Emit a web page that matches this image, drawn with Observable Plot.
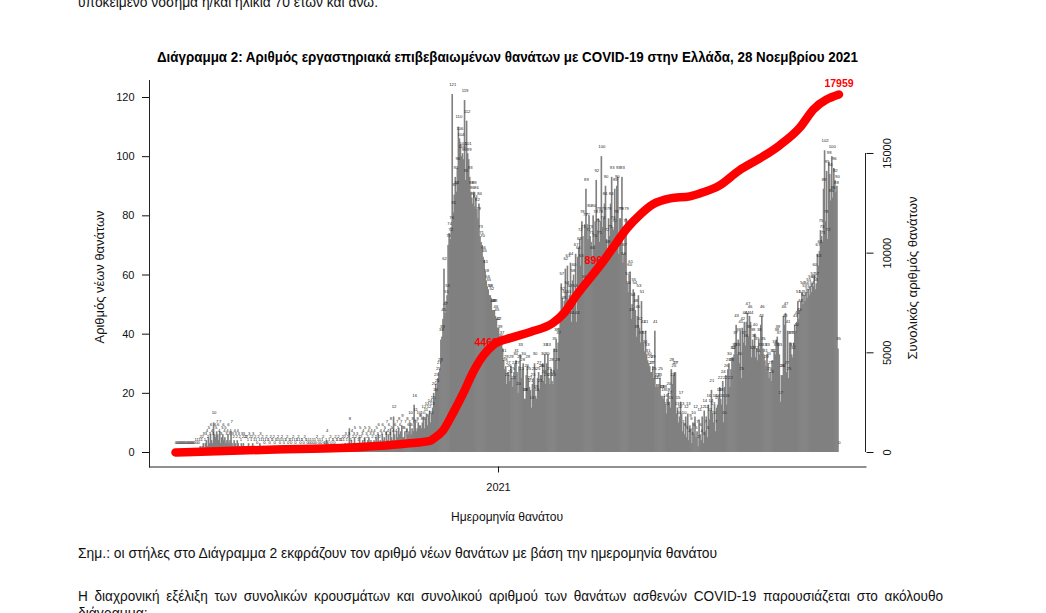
<!DOCTYPE html>
<html><head><meta charset="utf-8">
<script src="https://cdn.jsdelivr.net/npm/d3@7"></script>
<script src="https://cdn.jsdelivr.net/npm/@observablehq/plot@0.6"></script>
<style>
html,body{margin:0;padding:0;background:#fff;width:1046px;height:613px;overflow:hidden;position:relative;font-family:"Liberation Sans",Arial,sans-serif;color:#111;}
.t{position:absolute;white-space:nowrap;line-height:16px;transform-origin:0 0;}
.r{position:absolute;white-space:nowrap;line-height:14px;}
#chart{position:absolute;left:0;top:0;}
</style></head><body>
<div class="t" id="top" data-w="300" style="left:78px;top:-6px;font-size:14px;">υποκείμενο νόσημα ή/και ηλικία 70 ετών και άνω.</div>
<div class="t" id="title" data-w="701" style="left:157px;top:49px;font-size:14px;font-weight:bold;color:#000;">Διάγραμμα 2: Αριθμός εργαστηριακά επιβεβαιωμένων θανάτων με COVID-19 στην Ελλάδα, 28 Νοεμβρίου 2021</div>
<div id="chart"></div>
<div class="r" id="ylab" data-w="133" data-cx="100" data-cy="277" style="font-size:12px;">Αριθμός νέων θανάτων</div>
<div class="r" id="ylab2" data-w="163" data-cx="913" data-cy="278" style="font-size:12px;">Συνολικός αριθμός θανάτων</div>
<div class="t" id="xlab" data-w="112" style="left:451px;top:509px;font-size:12px;">Ημερομηνία θανάτου</div>
<div class="t" id="note" data-w="639" style="left:78px;top:545px;font-size:14px;">Σημ.: οι στήλες στο Διάγραμμα 2 εκφράζουν τον αριθμό νέων θανάτων με βάση την ημερομηνία θανάτου</div>
<div class="t" id="para" data-w="865" style="left:78px;top:588px;font-size:14px;word-spacing:3px;">Η διαχρονική εξέλιξη των συνολικών κρουσμάτων και συνολικού αριθμού των θανάτων ασθενών COVID-19 παρουσιάζεται στο ακόλουθο</div>
<div class="t" id="para2" style="left:78px;top:605px;font-size:14px;">διάγραμμα:</div>
<script>
// ---- data ----
const startDate = "2020-02-22";
const endDate = "2021-11-28";
const deaths = [
0,0,0,0,0,0,0,0,0,0,0,0,0,0,0,0,0,0,
0,1,0,1,0,1,2,1,2,3,1,3,4,2,5,3,6,4,3,10,6,
5,7,6,4,7,3,5,6,4,5,3,4,6,3,4,7,3,2,4,3,2,4,3,2,1,3,2,3,2,2,
2,1,3,2,1,2,3,1,2,1,0,2,1,3,1,2,1,0,1,2,1,1,0,2,1,1,2,0,1,1,2,
1,0,1,2,1,0,1,1,2,0,1,1,0,1,2,1,0,1,1,2,1,0,1,1,0,2,1,1,0,1,
0,1,0,1,0,1,0,2,1,0,1,0,1,2,0,0,1,4,0,1,2,0,1,1,0,2,1,1,2,1,1,
1,2,1,2,3,1,2,3,8,1,4,2,3,5,2,3,1,2,5,2,3,4,1,5,3,2,4,5,3,4,2,
3,4,2,5,3,6,2,4,3,6,4,5,3,7,4,6,3,8,5,4,12,6,4,7,5,8,6,7,9,5,
5,7,4,8,6,7,10,6,8,7,16,11,7,8,10,9,9,8,10,12,8,11,13,9,12,14,10,13,15,
20,18,23,21,25,27,28,38,39,45,
62,47,51,53,70,74,72,76,121,81,
87,93,88,96,110,106,104,100,101,99,
119,92,112,101,99,93,88,86,84,88,
83,86,82,79,84,73,71,70,66,65,
61,58,56,55,53,53,52,48,48,48,
46,45,42,42,39,36,37,35,31,28,
29,23,27,26,24,29,25,22,27,30,
31,27,20,29,33,25,28,30,18,18,26,29,25,22,21,15,23,25,30,19,18,25,27,21,26,
26,30,24,33,23,30,33,25,23,28,24,23,
35,31,38,28,37,42,
44,57,52,49,51,
62,54,63,51,53,
64,44,58,60,53,67,44,
66,69,72,63,78,73,
56,77,89,77,72,
80,73,71,66,80,70,
78,92,75,79,71,78,
100,76,79,84,
90,72,68,79,
73,84,93,76,75,
89,78,90,93,67,79,
79,93,64,67,75,79,
57,54,60,61,45,50,55,
54,48,39,46,53,42,37,
51,41,37,34,41,33,31,
30,29,27,27,29,25,41,
22,23,22,23,25,19,
19,18,19,16,13,18,
20,17,15,28,23,26,27,
27,13,15,10,12,17,
13,7,10,6,12,5,13,
4,9,8,3,10,6,12,
5,7,2,11,6,4,12,
3,14,7,12,5,16,11,
14,21,13,10,16,7,15,
16,18,22,18,16,24,10,
22,26,16,28,30,22,28,
32,32,33,37,43,33,38,
30,41,25,42,37,44,36,
44,47,39,46,44,32,38,
36,40,32,35,31,38,33,
43,46,35,33,31,29,33,
30,25,27,24,31,31,34,
33,38,39,37,33,17,26,
26,46,43,47,27,41,25,
37,37,33,32,37,43,40,
44,51,45,48,51,54,50,
53,51,54,52,55,53,56,
54,57,56,60,55,57,
67,63,68,75,73,71,
89,102,78,95,72,98,
94,85,100,86,96,92,88,90,
35,0
];
// cumulative deaths (red line)
const cumDates = ["2020-02-22","2020-05-29","2020-07-31","2020-10-04","2020-10-27","2020-10-30","2020-11-08","2020-11-18","2020-11-28","2020-12-07","2020-12-17","2020-12-27","2021-01-13","2021-02-01","2021-02-23","2021-03-05","2021-03-18","2021-03-31","2021-04-13","2021-04-26","2021-05-06","2021-05-19","2021-05-31","2021-06-17","2021-07-06","2021-07-16","2021-08-04","2021-08-23","2021-09-12","2021-10-01","2021-10-21","2021-11-03","2021-11-28"];
const cumValues = [0,150,220,450,600,700,1100,2000,3000,4000,4850,5400,5750,6050,6500,6950,7900,8750,9600,10550,11250,11950,12450,12750,12850,13000,13400,14150,14750,15400,16300,17200,17959];
// labelled totals on the curve: date, text, and curve height at that date
const cumLabelDates = ["2020-12-20","2021-04-06","2021-11-28"];
const cumLabelTexts = ["4469","8968","17959"];
const cumLabelAt = [4950,9050,17959];
const leftTicks = [0,20,40,60,80,100,120];
const rightTicks = [0,5000,10000,15000];
const xTicks = ["2021-01-01"];

// ---- build ----
const parse = d3.utcParse("%Y-%m-%d");
const start = parse(startDate), end = parse(endDate);
const table = deaths.map((v,i)=>({date: d3.utcDay.offset(start,i), next: d3.utcDay.offset(start,i+1), mid: d3.utcHour.offset(d3.utcDay.offset(start,i),12), value: v}));
const cum = cumDates.map((d,i)=>({date: parse(d), total: cumValues[i]}));
const cumLabels = cumLabelDates.map((d,i)=>({date: parse(d), at: cumLabelAt[i], text: cumLabelTexts[i]}));
const k = 148.4; // right-axis units per left-axis unit
const font = '"Liberation Sans",Arial,sans-serif';

const rightLine = (index, scales, values, dims) => {
  const x = dims.width - dims.marginRight;
  return d3.create("svg:line")
    .attr("x1", x).attr("x2", x)
    .attr("y1", scales.y(0)).attr("y2", scales.y(d3.max(rightTicks)/k))
    .attr("stroke", "#222").node();
};

const chart = Plot.plot({
  width: 1046, height: 540,
  marginLeft: 149, marginRight: 180.5, marginTop: 80, marginBottom: 73.5,
  x: {type: "utc", domain: [start, d3.utcDay.offset(end,1)], insetLeft: 26, insetRight: 26},
  y: {domain: [0,120], insetTop: 17, insetBottom: 14.5},
  style: {fontFamily: font, fontSize: "11px", color: "#111", background: "transparent"},
  marks: [
    Plot.rect(table, {x1: "date", x2: "next", y1: 0, y2: "value", fill: "#808080", insetLeft: -0.3, insetRight: -0.3}),
    Plot.text(table, {x: "mid", y: "value", text: d=>String(d.value), dy: -10, fontSize: 4.2, fill: "#222"}),
    Plot.text(cumLabels, {x: "date", y: d=>d.at/k, text: "text", dy: -11, fill: "#ff0000", fontWeight: "bold", fontSize: 10.5}),
    Plot.line(cum, {x: "date", y: d=>d.total/k, stroke: "#ff0000", strokeWidth: 8.5, strokeLinecap: "round", strokeLinejoin: "round", curve: "monotone-x"}),
    Plot.frame({anchor: "left", stroke: "#222"}),
    Plot.frame({anchor: "bottom", stroke: "#222"}),
    rightLine,
    Plot.axisY(leftTicks, {anchor: "left", tickSize: 7, tickPadding: 8, label: null, fontSize: 11}),
    Plot.axisY(rightTicks.map(v=>v/k), {anchor: "right", tickSize: 7, tickPadding: 18, tickRotate: -90, tickFormat: d=>String(Math.round(d*k/1000)*1000), label: null, fontSize: 11}),
    Plot.axisX(xTicks.map(parse), {tickSize: 6, tickPadding: 10, tickFormat: "%Y", label: null, fontSize: 11})
  ]
});
document.getElementById("chart").appendChild(chart);

// fit texts horizontally to their widths in the reference (condensed face)
let noteScale = 1;
document.querySelectorAll(".t[data-w]").forEach(el => {
  const s = (+el.dataset.w) / el.getBoundingClientRect().width;
  el.style.transform = `scaleX(${s})`;
  if (el.id === "note") noteScale = s;
});
document.getElementById("para2").style.transform = `scaleX(${noteScale})`;
document.querySelectorAll(".r").forEach(el => {
  const w = el.getBoundingClientRect().width, h = el.getBoundingClientRect().height;
  const s = (+el.dataset.w) / w;
  el.style.left = (+el.dataset.cx - w/2) + "px";
  el.style.top = (+el.dataset.cy - h/2) + "px";
  el.style.transform = `rotate(-90deg) scaleX(${s})`;
});
</script>
</body></html>
